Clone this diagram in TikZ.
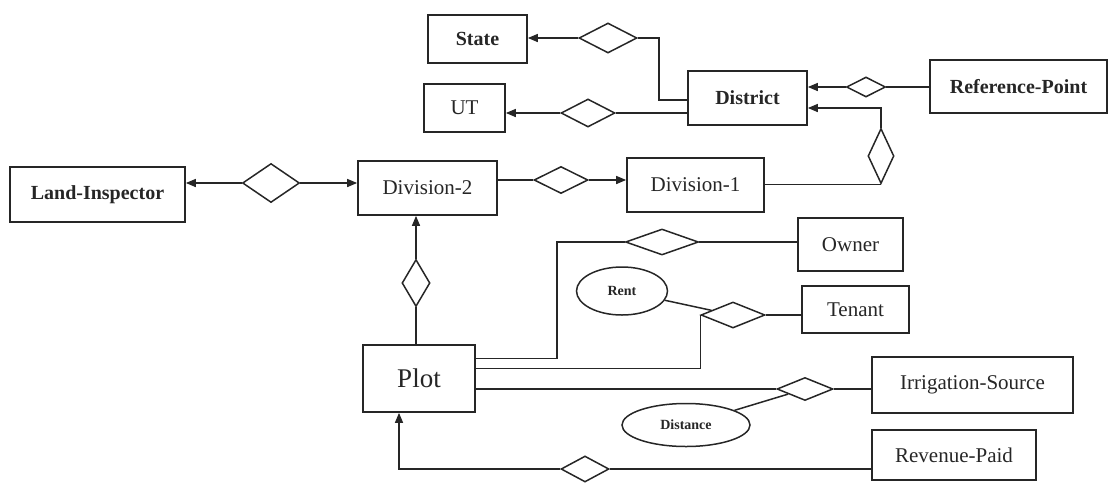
\documentclass[tikz,border=0pt]{standalone}
\usepackage{fontspec}
\setmainfont{Liberation Serif}
\usetikzlibrary{shapes.geometric,arrows.meta,calc}
\tikzset{
  ent/.style={draw, line width=1.7pt, inner sep=0pt, font=\fontsize{21}{24}\selectfont},
  entb/.style={ent, font=\fontsize{20}{24}\selectfont\bfseries},
  rel/.style={draw, diamond, line width=1.5pt, inner sep=0pt},
  attr/.style={draw, ellipse, line width=1.5pt, inner sep=0pt, font=\fontsize{14}{16}\selectfont\bfseries},
  link/.style={line width=1.5pt},
  arr/.style={link, -{Triangle[length=10pt,width=8pt]}},
}
\begin{document}
\begin{tikzpicture}[x=1pt,y=-1pt, color={black!85}]
\useasboundingbox (0,0) rectangle (1109,483);

% entity sets
\node[entb, minimum width=175pt, minimum height=55pt] (li)    at (97.5,194.5) {Land-Inspector};
\node[ent,  minimum width=139pt, minimum height=54pt] (div2)  at (427.5,188)  {Division-2};
\node[ent,  minimum width=137pt, minimum height=54pt] (div1)  at (695.5,185)  {Division-1};
\node[entb, minimum width=119pt, minimum height=54pt] (dist)  at (747.5,98)   {District};
\node[entb, minimum width=177pt, minimum height=53pt] (ref)   at (1018.5,86.5){Reference-Point};
\node[entb, minimum width=99pt,  minimum height=48pt] (state) at (477.5,39)    {State};
\node[ent,  minimum width=81pt,  minimum height=48pt] (ut)    at (464.5,108)   {UT};
\node[ent,  minimum width=112pt, minimum height=67pt, font=\fontsize{27}{30}\selectfont] (plot) at (419,378.5) {Plot};
\node[ent,  minimum width=105pt, minimum height=53pt] (owner) at (850.5,244.5) {Owner};
\node[ent,  minimum width=107pt, minimum height=47pt] (ten)   at (855.5,309.5) {Tenant};
\node[ent,  minimum width=201pt, minimum height=56pt] (irr)   at (972.5,385)   {Irrigation-Source};
\node[ent,  minimum width=164pt, minimum height=50pt] (rev)   at (954,455)     {Revenue-Paid};

% relationships
\node[rel, minimum width=57pt, minimum height=39pt] (r1)   at (271,183) {};
\node[rel, minimum width=54pt, minimum height=27pt] (r2)   at (561,180) {};
\node[rel, minimum width=58pt, minimum height=30pt] (rst)  at (608,38)  {};
\node[rel, minimum width=54pt, minimum height=28pt] (rut)  at (588,113) {};
\node[rel, minimum width=39pt, minimum height=20pt] (rref) at (866,87)  {};
\node[rel, minimum width=26pt, minimum height=55pt] (rdv)  at (881,156) {};
\node[rel, minimum width=28pt, minimum height=47pt] (rpd)  at (416,283) {};
\node[rel, minimum width=73pt, minimum height=26pt] (row)  at (662,242) {};
\node[rel, minimum width=64pt, minimum height=26pt] (rten) at (733,315) {};
\node[rel, minimum width=56pt, minimum height=23pt] (rirr) at (805,389) {};
\node[rel, minimum width=48pt, minimum height=26pt] (rrev) at (585,469) {};

% attributes
\node[attr, minimum width=91pt,  minimum height=48pt] (rent) at (622,291) {Rent};
\node[attr, minimum width=128pt, minimum height=43pt] (dst)  at (686,425) {Distance};

% connectors
\draw[arr] (r1.west) -- (r1.west -| li.east);
\draw[arr] (r1.east) -- (r1.east -| div2.west);

\draw[link] (r2.west -| div2.east) -- (r2.west);
\draw[arr] (r2.east) -- (r2.east -| div1.west);

\draw[arr] (rst.west) -- (rst.west -| state.east);
\draw[link] (rst.east) -- ++(21,0) |- ([yshift=-2pt]dist.west);

\draw[arr] (rut.west) -- (rut.west -| ut.east);
\draw[link] (rut.east) -- (rut.east -| dist.west);

\draw[link] (rref.east -| ref.west) -- (rref.east);
\draw[arr] (rref.west) -- (rref.west -| dist.east);

\draw[link] (rdv.south -| div1.east) -- (rdv.south);
\draw[arr] (rdv.north) |- ([yshift=-10pt]dist.east);

\draw[link] (rpd.south) -- (rpd.south |- plot.north);
\draw[arr] (rpd.north) -- (rpd.north |- div2.south);

\draw[link] ([yshift=20pt]plot.east) -- ++(81,0) |- (row.west);
\draw[link] (row.east) -- (row.east -| owner.west);

\draw[link] ([yshift=10pt]plot.east) -| (rten.west);
\draw[link] (rten.east) -- (rten.east -| ten.west);
\draw[link] (rent) -- (rten);

\draw[link] ([yshift=-10.5pt]plot.east) -- (rirr.west);
\draw[link] (rirr.east) -- (rirr.east -| irr.west);
\draw[link] (dst) -- (rirr);

\draw[link] (rrev.east -| rev.west) -- (rrev.east);
\draw[arr] (rrev.west) -| ([xshift=-20pt]plot.south);
\end{tikzpicture}
\end{document}
